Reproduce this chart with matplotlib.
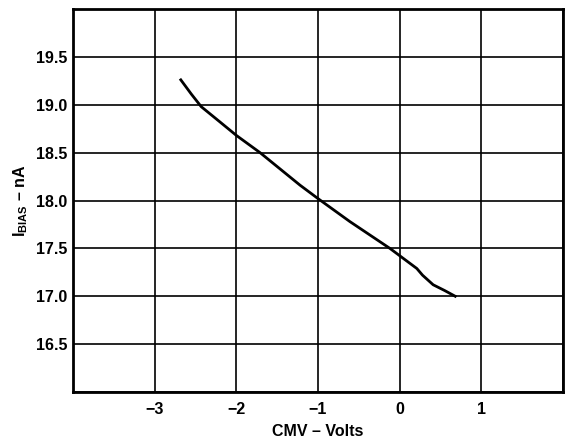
import matplotlib
matplotlib.use('Agg')
import matplotlib.pyplot as plt

# values
cmv = [-2.68, -2.55, -2.43, -2.2, -2.0, -1.71, -1.22, -1.0, -0.61, -0.12, 0.21, 0.28, 0.41, 0.55, 0.68]
i_bias = [19.26, 19.11, 18.98, 18.82, 18.68, 18.5, 18.16, 18.02, 17.78, 17.5, 17.29, 17.22, 17.12, 17.06, 17.0]

x_ticks = [-4, -3, -2, -1, 0, 1, 2]
x_labels = ['', '\u22123', '\u22122', '\u22121', '0', '1', '']
y_ticks = [16.0, 16.5, 17.0, 17.5, 18.0, 18.5, 19.0, 19.5, 20.0]
y_labels = [''] + ['%.1f' % v for v in y_ticks[1:-1]] + ['']

plt.rcParams['font.family'] = ['Liberation Sans', 'DejaVu Sans']
plt.rcParams['font.weight'] = 'bold'
plt.rcParams['mathtext.fontset'] = 'custom'
plt.rcParams['mathtext.rm'] = 'Liberation Sans:bold'
plt.rcParams['mathtext.bf'] = 'Liberation Sans:bold'

fig = plt.figure(figsize=(5.68, 4.40), dpi=100)
ax = fig.add_axes([73 / 568, 48 / 440, 490 / 568, 383 / 440])

ax.plot(cmv, i_bias, color='black', linewidth=2)

ax.set_xlim(-4, 2)
ax.set_ylim(16, 20)
ax.set_xticks(x_ticks)
ax.set_xticklabels(x_labels)
ax.set_yticks(y_ticks)
ax.set_yticklabels(y_labels)
ax.tick_params(axis='x', length=0, labelsize=11.5, pad=7)
ax.tick_params(axis='y', length=0, labelsize=11.5, pad=4)
ax.grid(True, color='black', linewidth=1.2)

for s in ax.spines.values():
    s.set_linewidth(2)

ax.set_xlabel('CMV \u2013 Volts', fontsize=11.5, fontweight='bold', labelpad=5)
ax.set_ylabel('I$_{\\mathrm{BIAS}}$ \u2013 nA', fontsize=11.5, fontweight='bold', labelpad=4)

plt.savefig('out.png', dpi=100)
